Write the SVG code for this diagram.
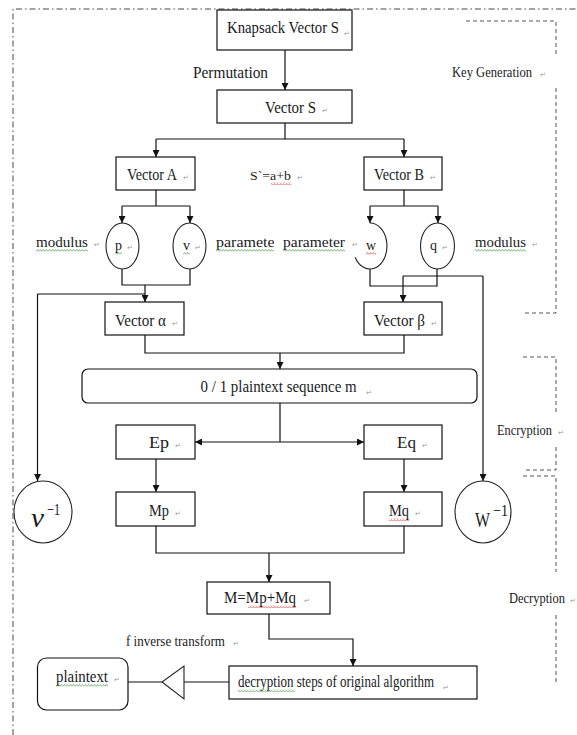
<svg xmlns="http://www.w3.org/2000/svg" width="577" height="735" viewBox="0 0 577 735">
<defs>
<style>
.bx{fill:#fff;stroke:#111;stroke-width:1.2}
.el{fill:#fff;stroke:#222;stroke-width:1.1}
.ln{fill:none;stroke:#111;stroke-width:1.2}
.ar{fill:none;stroke:#111;stroke-width:1.2;marker-end:url(#ah)}
.t{font-family:"Liberation Serif","Times New Roman",serif;fill:#1a1a1a}
.rm{font-family:"DejaVu Sans",sans-serif;fill:#999;font-size:7px}
.dash{fill:none;stroke:#555;stroke-width:1;stroke-dasharray:4 3}
.dd{fill:none;stroke:#333;stroke-width:0.9;stroke-dasharray:6 3 1.5 3}
.sg{fill:url(#sqG)}
.sr{fill:url(#sqR)}
</style>
<marker id="ah" viewBox="0 0 10 10" refX="10" refY="5" markerWidth="9" markerHeight="7" orient="auto-start-reverse" markerUnits="userSpaceOnUse"><path d="M0,0 L10,5 L0,10z" fill="#111"/></marker>
<pattern id="sqG" width="3" height="3" patternUnits="userSpaceOnUse"><path d="M0,2.5 L1.5,0.5 L3,2.5" fill="none" stroke="#4a9a4a" stroke-width="0.7"/></pattern>
<pattern id="sqR" width="3" height="3" patternUnits="userSpaceOnUse"><path d="M0,2.5 L1.5,0.5 L3,2.5" fill="none" stroke="#d44" stroke-width="0.7"/></pattern>
<clipPath id="clipParam"><rect x="210" y="225" width="64" height="30"/></clipPath>
</defs>
<rect width="577" height="735" fill="#fff"/>
<g id="frame">
<path class="dd" d="M13,735 V9 H577"/>
<path class="dash" d="M466,21 H556 V55 M556,88 V313 H523"/>
<path class="dash" d="M523,357 H556 V413 M556,447 V470 H523"/>
<path class="dash" d="M523,476 H556 V572 M556,615 V682"/>
</g>
<g id="connectors">
<line class="ar" x1="285" y1="50" x2="285" y2="90"/>
<path class="ln" d="M285,123 V139 M156,139 H404"/>
<line class="ar" x1="156" y1="139" x2="156" y2="157"/>
<line class="ar" x1="404" y1="139" x2="404" y2="157"/>
<path class="ln" d="M156,190 V206 M122,206 H190"/>
<line class="ar" x1="122" y1="206" x2="122" y2="223"/>
<line class="ar" x1="190" y1="206" x2="190" y2="223"/>
<path class="ln" d="M404,190 V206 M370,206 H438"/>
<line class="ar" x1="370" y1="206" x2="370" y2="223"/>
<line class="ar" x1="438" y1="206" x2="438" y2="223"/>
<path class="ln" d="M122,269 V285 H190 V269"/>
<line class="ar" x1="145" y1="285" x2="145" y2="302"/>
<path class="ln" d="M145,294 H37.5"/>
<line class="ar" x1="37.5" y1="294" x2="37.5" y2="481"/>
<path class="ln" d="M370,269 V286 H437 V269"/>
<path class="ln" d="M403,276 H483"/>
<line class="ar" x1="483" y1="276" x2="483" y2="481"/>
<line class="ar" x1="403" y1="276" x2="403" y2="302"/>
<path class="ln" d="M145,335 V353 H404 V335"/>
<line class="ar" x1="280" y1="353" x2="280" y2="369"/>
<line class="ln" x1="280" y1="403" x2="280" y2="442"/>
<line class="ar" x1="195" y1="442" x2="364" y2="442" style="marker-start:url(#ah)"/>
<line class="ar" x1="156" y1="459" x2="156" y2="492"/>
<line class="ar" x1="404" y1="459" x2="404" y2="492"/>
<path class="ln" d="M156,526 V553 H404 V526"/>
<line class="ar" x1="269" y1="553" x2="269" y2="582"/>
<path class="ar" d="M269,614 V639 H353 V666"/>
<line class="ln" x1="229" y1="682" x2="184" y2="682"/>
<line class="ln" x1="162" y1="682" x2="128" y2="682"/>
<polygon points="184,666 184,699 162,682" fill="#fff" stroke="#222" stroke-width="1.1"/>
</g>
<g id="knapsack">
<rect class="bx" x="217" y="10" width="135" height="40"/>
<text class="t" x="227" y="33" font-size="17" textLength="112" lengthAdjust="spacingAndGlyphs">Knapsack Vector S</text>
<text class="rm" x="344" y="36">↵</text>
</g>
<g id="permutation-label"><text class="t" x="193" y="78" font-size="16" textLength="75" lengthAdjust="spacingAndGlyphs">Permutation</text></g>
<g id="vectorS">
<rect class="bx" x="217" y="90" width="135" height="33"/>
<text class="t" x="265" y="113" font-size="16" textLength="51" lengthAdjust="spacingAndGlyphs">Vector S</text>
<text class="rm" x="322" y="113">↵</text>
</g>
<g id="vectorA">
<rect class="bx" x="116" y="157" width="79" height="33"/>
<text class="t" x="127" y="180" font-size="16" textLength="50" lengthAdjust="spacingAndGlyphs">Vector A</text>
<text class="rm" x="183" y="180">↵</text>
</g>
<g id="sum-label"><text class="t" x="250" y="180" font-size="13" textLength="41" lengthAdjust="spacingAndGlyphs">S`=a+b</text><text class="rm" x="297" y="180">↵</text></g>
<g id="vectorB">
<rect class="bx" x="364" y="157" width="78" height="33"/>
<text class="t" x="374" y="180" font-size="16" textLength="50" lengthAdjust="spacingAndGlyphs">Vector B</text>
<text class="rm" x="430" y="180">↵</text>
</g>
<g id="keygen-label"><text class="t" x="452" y="77" font-size="14" textLength="80" lengthAdjust="spacingAndGlyphs">Key Generation</text><text class="rm" x="540" y="77">↵</text></g>
<g id="modulus-left"><text class="t" x="36" y="247" font-size="15" textLength="52" lengthAdjust="spacingAndGlyphs">modulus</text><text class="rm" x="94" y="247">↵</text></g>
<g id="p">
<ellipse class="el" cx="122.5" cy="246" rx="16.5" ry="23"/>
<text class="t" x="115" y="250" font-size="14" textLength="7" lengthAdjust="spacingAndGlyphs">p</text>
<text class="rm" x="127" y="250">↵</text>
</g>
<g id="v">
<ellipse class="el" cx="189.5" cy="246" rx="16.5" ry="23"/>
<text class="t" x="183" y="250" font-size="14" textLength="7" lengthAdjust="spacingAndGlyphs">v</text>
<text class="rm" x="195" y="250">↵</text>
</g>
<g id="parameter-left" clip-path="url(#clipParam)"><text class="t" x="216" y="247" font-size="15" textLength="64" lengthAdjust="spacingAndGlyphs">parameter</text></g>
<g id="parameter-right"><text class="t" x="283" y="247" font-size="15" textLength="62" lengthAdjust="spacingAndGlyphs">parameter</text><text class="rm" x="352" y="247">↵</text></g>
<g id="w">
<path class="el" d="M370,223 A17,23 0 1,1 355.1,257.2"/>
<text class="t" x="366" y="250" font-size="14" textLength="10" lengthAdjust="spacingAndGlyphs">w</text>
</g>
<g id="q">
<ellipse class="el" cx="437.5" cy="246" rx="17" ry="23"/>
<text class="t" x="430" y="250" font-size="14" textLength="7" lengthAdjust="spacingAndGlyphs">q</text>
<text class="rm" x="442" y="250">↵</text>
</g>
<g id="modulus-right"><text class="t" x="475" y="247" font-size="15" textLength="51" lengthAdjust="spacingAndGlyphs">modulus</text><text class="rm" x="532" y="247">↵</text></g>
<g id="vectorAlpha">
<rect class="bx" x="105" y="302" width="79" height="33"/>
<text class="t" x="115" y="326" font-size="16" textLength="51" lengthAdjust="spacingAndGlyphs">Vector α</text>
<text class="rm" x="172" y="326">↵</text>
</g>
<g id="vectorBeta">
<rect class="bx" x="364" y="302" width="78" height="33"/>
<text class="t" x="374" y="326" font-size="16" textLength="51" lengthAdjust="spacingAndGlyphs">Vector β</text>
<text class="rm" x="431" y="326">↵</text>
</g>
<g id="sequence">
<rect class="bx" x="82" y="369" width="395" height="34" rx="6"/>
<text class="t" x="200.6" y="392" font-size="16" textLength="156" lengthAdjust="spacingAndGlyphs">0 / 1 plaintext sequence m</text>
<text class="rm" x="366" y="395">↵</text>
</g>
<g id="ep">
<rect class="bx" x="116" y="425" width="79" height="34"/>
<text class="t" x="149" y="448" font-size="16" textLength="20" lengthAdjust="spacingAndGlyphs">Ep</text>
<text class="rm" x="175" y="448">↵</text>
</g>
<g id="eq">
<rect class="bx" x="364" y="425" width="78" height="34"/>
<text class="t" x="397" y="448" font-size="16" textLength="19" lengthAdjust="spacingAndGlyphs">Eq</text>
<text class="rm" x="422" y="448">↵</text>
</g>
<g id="encryption-label"><text class="t" x="497" y="435" font-size="14" textLength="55" lengthAdjust="spacingAndGlyphs">Encryption</text><text class="rm" x="558" y="435">↵</text></g>
<g id="vinv">
<ellipse class="el" cx="43" cy="512" rx="29" ry="31"/>
<text class="t" x="31" y="527" font-size="28" font-style="italic" textLength="13" lengthAdjust="spacingAndGlyphs">v</text>
<text class="t" x="47" y="515" font-size="17" textLength="13" lengthAdjust="spacingAndGlyphs">−1</text>
</g>
<g id="winv">
<ellipse class="el" cx="483" cy="512" rx="28" ry="31"/>
<text class="t" x="475" y="527" font-size="22" textLength="15" lengthAdjust="spacingAndGlyphs">W</text>
<text class="t" x="493" y="516" font-size="17" textLength="15" lengthAdjust="spacingAndGlyphs">−1</text>
</g>
<g id="mp">
<rect class="bx" x="116" y="492" width="79" height="34"/>
<text class="t" x="149" y="516" font-size="16" textLength="20" lengthAdjust="spacingAndGlyphs">Mp</text>
<text class="rm" x="175" y="516">↵</text>
</g>
<g id="mq">
<rect class="bx" x="364" y="492" width="78" height="34"/>
<text class="t" x="389" y="516" font-size="16" textLength="20" lengthAdjust="spacingAndGlyphs">Mq</text>
<text class="rm" x="415" y="516">↵</text>
</g>
<g id="msum">
<rect class="bx" x="207" y="582" width="123" height="32"/>
<text class="t" x="224" y="603" font-size="17" textLength="72" lengthAdjust="spacingAndGlyphs">M=Mp+Mq</text>
<text class="rm" x="304" y="603">↵</text>
</g>
<g id="decryption-label"><text class="t" x="509" y="603" font-size="14" textLength="56" lengthAdjust="spacingAndGlyphs">Decryption</text><text class="rm" x="570" y="603">↵</text></g>
<g id="finv-label"><text class="t" x="126" y="646" font-size="14" textLength="99" lengthAdjust="spacingAndGlyphs">f inverse transform</text><text class="rm" x="233" y="646">↵</text></g>
<g id="decsteps">
<rect class="bx" x="229" y="666" width="248" height="33"/>
<text class="t" x="238" y="687" font-size="16" textLength="196" lengthAdjust="spacingAndGlyphs">decryption steps of original algorithm</text>
<text class="rm" x="443" y="690">↵</text>
</g>
<g id="plaintext">
<rect class="bx" x="37.5" y="658" width="90.5" height="52" rx="9"/>
<text class="t" x="56" y="682" font-size="16" textLength="52" lengthAdjust="spacingAndGlyphs">plaintext</text>
<text class="rm" x="114" y="682">↵</text>
</g>
<g id="spellcheck">
<rect class="sr" x="271" y="182" width="20" height="3"/>
<rect class="sg" x="36" y="249" width="52" height="3"/>
<rect class="sg" x="115" y="252" width="7" height="3"/>
<rect class="sg" x="183" y="252" width="7" height="3"/>
<rect class="sg" x="216" y="249" width="58" height="3"/>
<rect class="sg" x="283" y="249" width="62" height="3"/>
<rect class="sr" x="366" y="252" width="10" height="3"/>
<rect class="sg" x="475" y="249" width="51" height="3"/>
<rect class="sr" x="389" y="518" width="20" height="3"/>
<rect class="sr" x="248" y="605" width="48" height="3"/>
<rect class="sg" x="56" y="684" width="52" height="3"/>
<rect class="sg" x="238" y="689" width="57" height="3"/>
</g>
</svg>
